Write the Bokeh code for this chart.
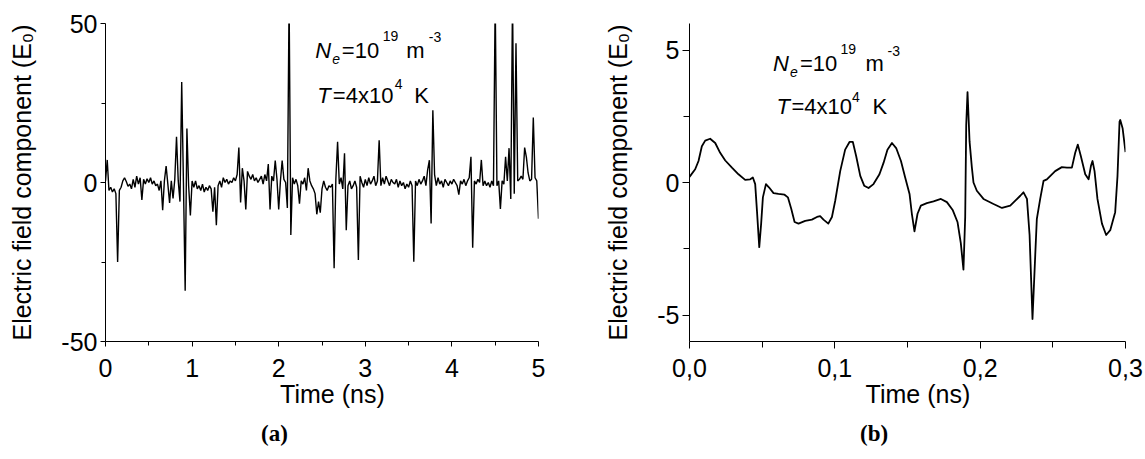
from math import pi
from bokeh.plotting import figure
from bokeh.layouts import row
from bokeh.models import FixedTicker, Label, Range1d, Title
from bokeh.embed import file_html
from bokeh.resources import INLINE

SANS = "Liberation Sans"
SERIF = "Liberation Serif"

# ---------------- data: panel (a) ----------------
T_STEP_A = 0.02  # ns, sampling step of panel (a)
E_a = [
    0.5, 7.1, -2.5, -1.5, -3.0, -2.0, -3.5, -25.0, -2.5, -1.5,
    0.5, 1.5, 0.3, -1.2, -0.5, -2.0, 1.0, -1.5, 2.0, -0.5,
    1.5, -5.5, 1.0, -0.5, 1.2, 0.0, 1.5, -0.5, 0.5, -1.0,
    -0.5, -2.5, 0.5, -8.7, 0.5, 5.2, -0.5, -6.4, 0.5, -5.0,
    1.0, 14.4, 0.5, -6.0, 31.6, 0.0, -34.0, 17.0, -1.0, -10.4,
    0.5, -1.5, 0.5, -2.0, -1.0, -2.5, -0.5, -3.0, -1.5, -2.5,
    -1.0, -2.0, -9.2, -1.5, -13.4, -1.0, 0.5, -1.5, 1.5, 0.0,
    1.0, -0.5, 0.5, 0.0, 1.5, 0.5, 2.5, 11.0, -6.3, 4.5,
    0.5, -8.5, 3.5, 2.0, 1.0, 2.5, 0.5, 1.5, 0.0, 1.0,
    2.0, -0.5, 2.5, 0.5, 5.8, -8.5, 2.0, 0.5, 6.9, 1.0,
    -8.5, 0.5, 6.9, 1.0, 0.0, -8.0, 58.0, -16.5, 1.5, -0.5,
    1.0, -1.0, -6.7, 0.5, -0.5, 1.5, -2.5, 4.5, 0.5, -1.0,
    -2.0, -3.5, -10.0, -6.0, -9.5, -2.0, 0.5, -1.5, -2.5, -1.0,
    -1.5, -0.5, -27.0, 1.0, 12.8, -0.5, 1.5, -2.0, 9.2, -15.0,
    -1.0, 0.5, -2.0, -1.0, 0.5, -1.5, -24.4, 2.0, 0.0, -1.5,
    1.0, -1.0, 1.5, -0.5, 0.5, 2.0, -1.0, 0.5, 13.3, -1.0,
    1.5, -0.5, 2.0, 0.5, -1.0, 1.0, 0.0, -0.5, 1.0, -1.5,
    0.5, -1.0, 0.0, -2.0, -0.5, -1.5, 0.5, -1.0, -24.9, 0.5,
    -1.0, 1.0, -0.5, 0.5, 2.0, -1.0, 4.0, 7.0, -12.9, 22.7,
    2.5, -1.0, 1.5, -0.5, 0.5, -1.5, 1.0, 0.0, -1.0, 0.5,
    -0.5, 1.0, 0.0, -1.0, -3.8, 0.5, -0.5, 1.0, -1.0, 0.5,
    1.5, 8.1, -20.5, 0.5, -0.5, 1.0, 0.0, 7.1, -1.0, 0.5,
    -1.0, 0.0, -1.5, 0.5, -1.0, 58.0, -1.0, 0.5, -8.3, 0.5,
    -0.5, 8.1, 0.5, 10.8, -5.2, 58.0, -3.5, 43.8, 0.5, 1.0,
    2.0, 1.0, 11.0, 8.0, 3.0, 0.5, 1.0, 20.4, 1.5, 0.5, -11.4,
]
t_a = [i * T_STEP_A for i in range(len(E_a))]

# ---------------- data: panel (b) ----------------
t_b = [0.0, 0.0039, 0.0062, 0.0085, 0.0108, 0.0142, 0.0177, 0.0211, 0.0246, 0.0292,
       0.0337, 0.0383, 0.0418, 0.0436, 0.0452, 0.0464, 0.048, 0.0493, 0.0505, 0.0526,
       0.0548, 0.0578, 0.0612, 0.0654, 0.0677, 0.070, 0.0723, 0.075, 0.0796, 0.0842,
       0.0877, 0.0899, 0.0922, 0.0955, 0.098, 0.1003, 0.1037, 0.1071, 0.1101, 0.1124,
       0.1147, 0.1175, 0.1202, 0.1232, 0.1266, 0.1307, 0.1335, 0.1362, 0.1393, 0.1422,
       0.1455, 0.1484, 0.1514, 0.153, 0.1548, 0.1569, 0.1592, 0.1633, 0.1679, 0.173,
       0.1771, 0.1812, 0.1844, 0.1867, 0.1885, 0.1897, 0.1904, 0.1913, 0.1927, 0.1943,
       0.1954, 0.1977, 0.2023, 0.2092, 0.215, 0.2207, 0.2276, 0.2298, 0.2322, 0.234,
       0.236, 0.2379, 0.239, 0.2413, 0.2436, 0.2459, 0.2516, 0.2562, 0.2597, 0.2631,
       0.2654, 0.2672, 0.2693, 0.2723, 0.2746, 0.2762, 0.2773, 0.2787, 0.2807, 0.2838,
       0.2867, 0.2895, 0.2929, 0.2945, 0.2959, 0.2964, 0.298, 0.300]
E_b = [0.21, 0.5, 0.81, 1.37, 1.58, 1.65, 1.49, 1.12, 0.83, 0.56,
       0.31, 0.10, 0.12, 0.19, -0.06, -1.05, -2.44, -1.55, -0.56, -0.06,
       -0.19, -0.40, -0.43, -0.46, -0.56, -0.99, -1.49, -1.55, -1.45, -1.40,
       -1.30, -1.27, -1.40, -1.55, -1.30, -0.68, 0.43, 1.24, 1.53, 1.53,
       0.99, 0.25, -0.12, -0.21, -0.06, 0.31, 0.74, 1.24, 1.49, 1.30,
       0.81, 0.19, -0.43, -1.18, -1.84, -1.18, -0.87, -0.78, -0.71, -0.62,
       -0.74, -1.05, -1.49, -2.30, -3.29, -1.30, 2.17, 3.41, 1.55, 0.56,
       0.0, -0.31, -0.62, -0.81, -0.96, -0.87, -0.50, -0.37, -0.62, -1.98,
       -5.15, -2.73, -1.37, -0.62, 0.06, 0.12, 0.43, 0.58, 0.56, 0.56,
       1.12, 1.43, 0.99, 0.31, 0.12, 0.62, 0.81, 0.43, -0.62, -1.55,
       -1.98, -1.80, -1.12, 0.25, 2.30, 2.36, 2.05, 1.15]

# ticks / labels
xa_major = [0, 1, 2, 3, 4, 5]
xa_minor = [0.5, 1.5, 2.5, 3.5, 4.5]
ya_major = [-50, 0, 50]
ya_minor = [-25, 25]
ya_labels = {-50: "-50", 0: "0", 50: "50"}
xb_major = [0, 0.1, 0.2, 0.3]
xb_minor = [0.05, 0.15, 0.25]
xb_labels = {0: "0,0", 0.1: "0,1", 0.2: "0,2", 0.3: "0,3"}
yb_major = [-5, 0, 5]
yb_minor = [-2.5, 2.5]
yb_labels = {-5: "-5", 0: "0", 5: "5"}

Y_LABEL = "Electric field component (E\u2080)"
X_LABEL = "\u00a0\u00a0\u00a0Time (ns)"


def style(p, xt, xm, yt, ym, tmaj, tmin, xstand):
    p.grid.visible = False
    p.outline_line_color = None
    p.xaxis.ticker = FixedTicker(ticks=xt, minor_ticks=xm)
    p.yaxis.ticker = FixedTicker(ticks=yt, minor_ticks=ym)
    for ax in (p.xaxis[0], p.yaxis[0]):
        ax.axis_line_color = "black"
        ax.axis_line_width = 1
        ax.major_tick_line_color = "black"
        ax.minor_tick_line_color = "black"
        ax.major_tick_in = 0
        ax.major_tick_out = tmaj
        ax.minor_tick_in = 0
        ax.minor_tick_out = tmin
        ax.major_label_text_font = SANS
        ax.major_label_text_color = "black"
        ax.major_label_text_font_size = "25px"
        ax.axis_label_text_font = SANS
        ax.axis_label_text_font_size = "25px"
        ax.axis_label_text_font_style = "normal"
        ax.axis_label_text_color = "black"
    p.xaxis.major_label_standoff = xstand
    p.yaxis.major_label_standoff = 3
    p.xaxis.axis_label = X_LABEL
    p.yaxis.axis_label = Y_LABEL
    p.xaxis.axis_label_standoff = 0
    p.yaxis.axis_label_standoff = 22


def lab(p, x, y, text, size, fstyle="normal"):
    p.add_layout(Label(x=x, y=y, text=text, text_font=SANS,
                       text_font_size=f"{size}px", text_font_style=fstyle,
                       text_align="left", text_baseline="alphabetic",
                       text_color="black"))


def caption(p, text, offset):
    p.add_layout(Title(text=text, align="left", offset=offset, standoff=16,
                       text_font=SERIF, text_font_size="23px",
                       text_font_style="bold", text_color="black"), "below")


MAIN, SMALL = 22, 14

# ---------------- panel (a) ----------------
pa = figure(width=575, height=456, output_backend="svg", toolbar_location=None,
            x_range=Range1d(0, 5), y_range=Range1d(-50, 50),
            min_border_left=105, min_border_right=37, min_border_top=23,
            min_border_bottom=113)
style(pa, xa_major, xa_minor, ya_major, ya_minor, 5, 4, 12)
pa.yaxis.major_label_overrides = ya_labels
pa.line(t_a, E_a, line_color="black", line_width=1.4)

# pixel -> data for panel (a): frame 105..538.3 (x), 22.7..342.7 (y)
ax_ = lambda px: (px - 105.0) / 86.67
ay_ = lambda py: (182.7 - py) / 3.2

lab(pa, ax_(315.0), ay_(50), "N", MAIN, "italic")
lab(pa, ax_(332.0), ay_(58.5), "e", SMALL, "italic")
lab(pa, ax_(341.5), ay_(50), "=10", MAIN)
lab(pa, ax_(382.5), ay_(35.5), "19", SMALL)
lab(pa, ax_(406.0), ay_(50), "m", MAIN)
lab(pa, ax_(428.5), ay_(36.5), "-3", SMALL)
lab(pa, ax_(317.0), ay_(95), "T", MAIN, "italic")
lab(pa, ax_(332.5), ay_(95), "=4x10", MAIN)
lab(pa, ax_(394.5), ay_(84), "4", SMALL)
lab(pa, ax_(414.0), ay_(95), "K", MAIN)
caption(pa, "(a)", 274 - 13.4 - 105)

# ---------------- panel (b) ----------------
pb = figure(width=569, height=456, output_backend="svg", toolbar_location=None,
            x_range=Range1d(0, 0.3), y_range=Range1d(-6, 6),
            min_border_left=114, min_border_right=19, min_border_top=18,
            min_border_bottom=115)
style(pb, xb_major, xb_minor, yb_major, yb_minor, 7, 6, 10)
pb.xaxis.major_label_overrides = xb_labels
pb.yaxis.major_label_overrides = yb_labels
pb.line(t_b, E_b, line_color="black", line_width=1.8, line_join="round")

bx_ = lambda px: (px - 689.0) / 1453.3
by_ = lambda py: (180.0 - py) / 26.87

lab(pb, bx_(772.5), by_(59.3), "N", MAIN, "italic")
lab(pb, bx_(789.5), by_(67.5), "e", SMALL, "italic")
lab(pb, bx_(799.5), by_(59.3), "=10", MAIN)
lab(pb, bx_(840.0), by_(45), "19", SMALL)
lab(pb, bx_(865.0), by_(59.3), "m", MAIN)
lab(pb, bx_(887.0), by_(46.7), "-3", SMALL)
lab(pb, bx_(776.0), by_(103.3), "T", MAIN, "italic")
lab(pb, bx_(791.0), by_(103.3), "=4x10", MAIN)
lab(pb, bx_(851.5), by_(93), "4", SMALL)
lab(pb, bx_(872.0), by_(103.3), "K", MAIN)
caption(pb, "(b)", 873 - 13.4 - 689)

layout = row(pa, pb)
open("out.html", "w").write(file_html(layout, INLINE))
